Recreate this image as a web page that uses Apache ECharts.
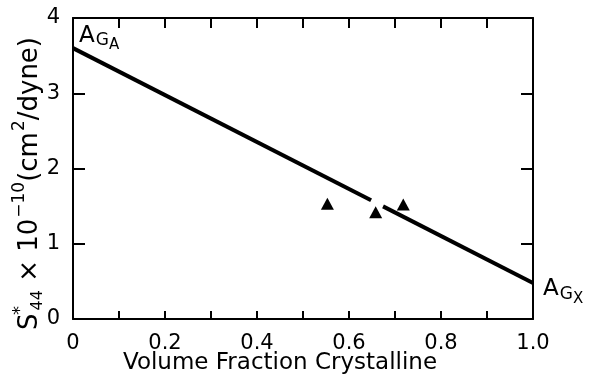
<!DOCTYPE html>
<html lang="en">
<head>
  <meta charset="UTF-8">
  <script src="https://cdn.jsdelivr.net/npm/echarts@6/dist/echarts.min.js"></script>
  <title>S44 vs volume fraction</title>
  <style>
    body { margin: 0; background: #fff; }
    #chart { width: 589px; height: 378px; }
  </style>
</head>
<body>
  <div id="chart"></div>
  <script>
    // straight fit line, broken around the middle triangle
    var fitX = [0, 0.648];
    var fitY = [3.6, 1.578];
    var fitX2 = [0.674, 1.0];
    var fitY2 = [1.497, 0.478];
    // measured points
    var ptsX = [0.553, 0.658, 0.718];
    var ptsY = [1.53, 1.42, 1.52];
    // end labels
    var endX = [0, 1.0];
    var endY = [3.6, 0.478];
    var endSub = ['A', 'X'];

    var ff = 'DejaVu Sans';

    function pairs(xs, ys) {
      var out = [];
      for (var i = 0; i < xs.length; i++) out.push([xs[i], ys[i]]);
      return out;
    }

    var axLine = { show: true, onZero: false, lineStyle: { color: '#000', width: 2 } };

    var myChart = echarts.init(document.getElementById('chart'), null, {renderer: 'canvas'});

    var option = {
      animation: false,
      backgroundColor: '#fff',
      grid: { left: 73, right: 56, top: 18, bottom: 59, outerBoundsMode: 'none', containLabel: false },
      xAxis: [{
        type: 'value', min: 0, max: 1, interval: 0.1,
        name: 'Volume Fraction Crystalline',
        nameLocation: 'middle', nameGap: 33, nameMoveOverlap: false,
        nameTextStyle: { fontFamily: ff, fontSize: 23, color: '#000', padding: [0, 46, 0, 0] },
        axisLine: axLine,
        axisTick: { show: true, inside: true, length: 8, lineStyle: { color: '#000', width: 2 } },
        axisLabel: {
          fontFamily: ff, fontSize: 21, color: '#000', margin: 14,
          formatter: function (v) {
            var k = Math.round(v * 10);
            if (k % 2) return '';
            return k === 0 ? '0' : (k / 10).toFixed(1);
          }
        },
        splitLine: { show: false }
      }, {
        type: 'value', min: 0, max: 1, interval: 0.1, position: 'top',
        axisLine: axLine,
        axisTick: { show: true, inside: true, length: 10, lineStyle: { color: '#000', width: 2 } },
        axisLabel: { show: false },
        splitLine: { show: false }
      }],
      yAxis: [{
        type: 'value', min: 0, max: 4, interval: 1,
        name: '{m|S}{st|*}{sub|44}{m| × 10}{sup|−10}{m|(cm}{sup|2}{m|/dyne)}',
        nameLocation: 'middle', nameGap: 36, nameRotate: 90, nameMoveOverlap: false,
        nameTextStyle: {
          color: '#000',
          padding: [0, 30, 0, 0],
          rich: {
            m: { fontFamily: ff, fontSize: 26, lineHeight: 26, verticalAlign: 'top', padding: [6, 0, 0, 0], color: '#000' },
            st: { fontFamily: ff, fontSize: 18, lineHeight: 18, verticalAlign: 'top', width: 0, padding: [0, 0, 0, 3], color: '#000' },
            sup: { fontFamily: ff, fontSize: 17, lineHeight: 17, verticalAlign: 'top', padding: [0, 0, 0, 1], color: '#000' },
            sub: { fontFamily: ff, fontSize: 16, lineHeight: 16, verticalAlign: 'top', padding: [19, 0, 0, 0], color: '#000' }
          }
        },
        axisLine: axLine,
        axisTick: { show: true, inside: true, length: 12, lineStyle: { color: '#000', width: 2 } },
        axisLabel: { fontFamily: ff, fontSize: 21, color: '#000', margin: 13 },
        splitLine: { show: false }
      }, {
        type: 'value', min: 0, max: 4, interval: 1, position: 'right',
        axisLine: axLine,
        axisTick: { show: true, inside: true, length: 12, lineStyle: { color: '#000', width: 2 } },
        axisLabel: { show: false },
        splitLine: { show: false }
      }],
      series: [{
        type: 'line', data: pairs(fitX, fitY), symbol: 'none',
        lineStyle: { color: '#000', width: 4 }
      }, {
        type: 'line', data: pairs(fitX2, fitY2), symbol: 'none',
        lineStyle: { color: '#000', width: 4 }
      }, {
        type: 'scatter', data: pairs(ptsX, ptsY),
        symbol: 'triangle', symbolSize: [13, 12],
        itemStyle: { color: '#000', opacity: 1 }
      }]
    };

    myChart.setOption(option);

    // A_GA / A_GX tags next to the line ends
    var endRich = {
      a: { fontFamily: ff, fontSize: 23, lineHeight: 23, verticalAlign: 'top', fill: '#000' },
      g: { fontFamily: ff, fontSize: 17, lineHeight: 17, verticalAlign: 'top', padding: [8, 0, 0, 1], fill: '#000' },
      s: { fontFamily: ff, fontSize: 15, lineHeight: 15, verticalAlign: 'top', padding: [14, 0, 0, 0], fill: '#000' }
    };
    var endOffset = [[6, -24], [10, -5]];
    var tags = endX.map(function (x, i) {
      var p = myChart.convertToPixel({ xAxisIndex: 0, yAxisIndex: 0 }, [x, endY[i]]);
      return {
        type: 'text', silent: true,
        x: p[0] + endOffset[i][0], y: p[1] + endOffset[i][1],
        style: { text: '{a|A}{g|G}{s|' + endSub[i] + '}', rich: endRich, fill: '#000' }
      };
    });
    myChart.setOption({ graphic: tags });
  </script>
</body>
</html>
